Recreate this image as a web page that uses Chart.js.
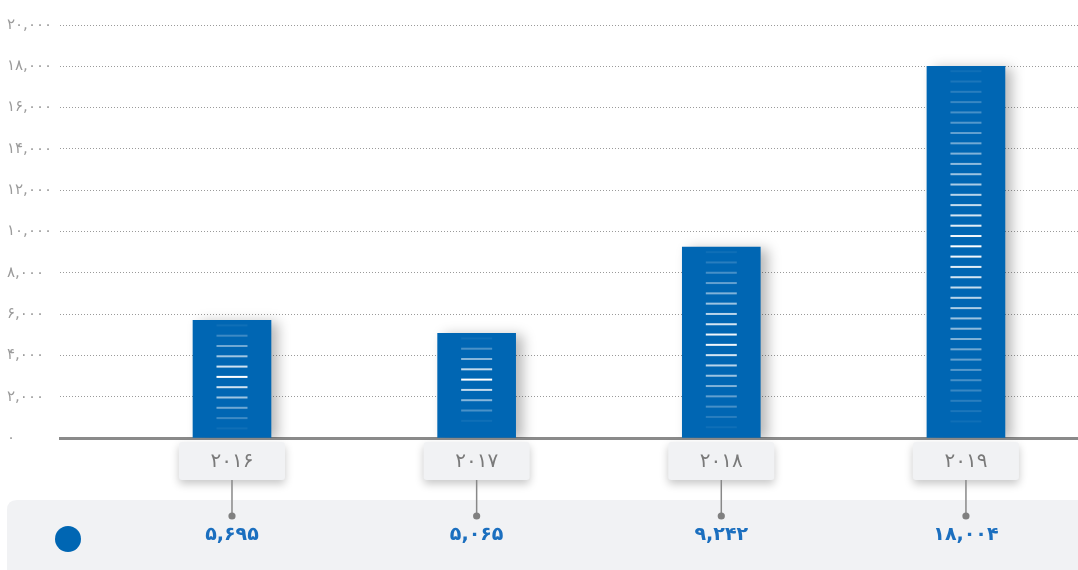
<!DOCTYPE html>
<html lang="fa">
<head>
    <meta charset="UTF-8">
    <title>Yearly totals</title>
    <script src="https://cdn.jsdelivr.net/npm/chart.js"></script>
    <style>
        html, body { margin: 0; padding: 0; background: #ffffff; }
        canvas { display: block; }
    </style>
</head>
<body>
    <canvas id="barChart" width="1078" height="570"></canvas>
    <script>
        // data
        const years = ['۲۰۱۶', '۲۰۱۷', '۲۰۱۸', '۲۰۱۹'];
        const totals = [5695, 5065, 9242, 18004];
        const yMax = 20000;
        const yStep = 2000;

        const FONT = '"DejaVu Sans", sans-serif';
        const BLUE = '#0066b3';

        // western digits -> persian digits
        function fa(n) {
            return n.toLocaleString('en-US').replace(/\d/g, d => '۰۱۲۳۴۵۶۷۸۹'[d]);
        }

        function roundRect(ctx, x, y, w, h, r) {
            ctx.beginPath();
            ctx.moveTo(x + r, y);
            ctx.lineTo(x + w - r, y);
            ctx.quadraticCurveTo(x + w, y, x + w, y + r);
            ctx.lineTo(x + w, y + h - r);
            ctx.quadraticCurveTo(x + w, y + h, x + w - r, y + h);
            ctx.lineTo(x + r, y + h);
            ctx.quadraticCurveTo(x, y + h, x, y + h - r);
            ctx.lineTo(x, y + r);
            ctx.quadraticCurveTo(x, y, x + r, y);
            ctx.closePath();
        }

        // soft shadow behind the bars, then the white stripes inside them
        const barDecor = {
            id: 'barDecor',
            beforeDatasetsDraw(chart) {
                const ctx = chart.ctx;
                ctx.save();
                ctx.shadowColor = 'rgba(0,0,0,0.28)';
                ctx.shadowBlur = 12;
                ctx.shadowOffsetX = 7;
                ctx.shadowOffsetY = 2;
            },
            afterDatasetsDraw(chart) {
                const ctx = chart.ctx;
                ctx.restore();
                ctx.save();
                chart.getDatasetMeta(0).data.forEach(bar => {
                    const top = bar.y + 4;
                    const bottom = bar.base - 10;
                    const n = Math.floor((bottom - top) / 10.3) + 1;
                    const mid = (n - 1) / 2;
                    for (let k = 0; k < n; k++) {
                        const t = mid ? Math.abs(k - mid) / mid : 0;
                        const a = Math.max(0.06, 1 - t * 0.95);
                        ctx.fillStyle = 'rgba(255,255,255,' + a.toFixed(3) + ')';
                        ctx.fillRect(bar.x - 15.5, top + k * 10.3, 31, 2);
                    }
                });
                ctx.restore();
            }
        };

        // year boxes, connectors and the value strip under the chart
        const footer = {
            id: 'footer',
            afterDraw(chart) {
                const ctx = chart.ctx;
                const xs = chart.scales.x;
                ctx.save();

                ctx.fillStyle = '#f1f2f4';
                roundRect(ctx, 7, 500, 1090, 90, 10);
                ctx.fill();

                years.forEach((label, i) => {
                    const cx = xs.getPixelForValue(i);

                    ctx.save();
                    ctx.shadowColor = 'rgba(0,0,0,0.22)';
                    ctx.shadowBlur = 9;
                    ctx.shadowOffsetY = 4;
                    ctx.fillStyle = '#f1f2f4';
                    roundRect(ctx, cx - 53, 442, 106, 38, 3);
                    ctx.fill();
                    ctx.restore();

                    ctx.fillStyle = '#7a7a7a';
                    ctx.font = '20px ' + FONT;
                    ctx.textAlign = 'center';
                    ctx.textBaseline = 'middle';
                    ctx.fillText(label, cx, 462);

                    ctx.strokeStyle = '#888888';
                    ctx.lineWidth = 1.5;
                    ctx.beginPath();
                    ctx.moveTo(cx, 480);
                    ctx.lineTo(cx, 516);
                    ctx.stroke();

                    ctx.fillStyle = '#808080';
                    ctx.beginPath();
                    ctx.arc(cx, 516, 3.6, 0, Math.PI * 2);
                    ctx.fill();

                    ctx.fillStyle = '#1b6fbf';
                    ctx.font = 'bold 19px ' + FONT;
                    ctx.fillText(fa(totals[i]), cx, 535);
                });

                ctx.fillStyle = BLUE;
                ctx.beginPath();
                ctx.arc(68, 539, 13, 0, Math.PI * 2);
                ctx.fill();

                ctx.restore();
            }
        };

        const chart = new Chart(document.getElementById('barChart'), {
            type: 'bar',
            data: {
                datasets: [{
                    data: totals.map((v, i) => ({ x: i, y: v })),
                    backgroundColor: BLUE,
                    borderWidth: 0,
                    barThickness: 78
                }]
            },
            options: {
                responsive: false,
                animation: false,
                layout: {
                    padding: { left: 7, top: 25, right: 0, bottom: 132 }
                },
                plugins: {
                    legend: { display: false },
                    tooltip: { enabled: false }
                },
                scales: {
                    x: {
                        type: 'linear',
                        min: -0.703,
                        max: 3.458,
                        offset: false,
                        z: 1,
                        afterFit(scale) { scale.height = 0; },
                        ticks: { display: false },
                        grid: { display: false },
                        border: { display: true, color: '#8a8a8a', width: 3 }
                    },
                    y: {
                        min: 0,
                        max: yMax,
                        afterFit(scale) { scale.width = 53; },
                        ticks: {
                            stepSize: yStep,
                            crossAlign: 'far',
                            color: '#9b9b9b',
                            font: { family: FONT, size: 15 },
                            callback: v => fa(v)
                        },
                        grid: {
                            color: '#9a9a9a',
                            lineWidth: 1,
                            drawTicks: false
                        },
                        border: { display: false, dash: [1, 2] }
                    }
                }
            },
            plugins: [barDecor, footer]
        });
    </script>
</body>
</html>
